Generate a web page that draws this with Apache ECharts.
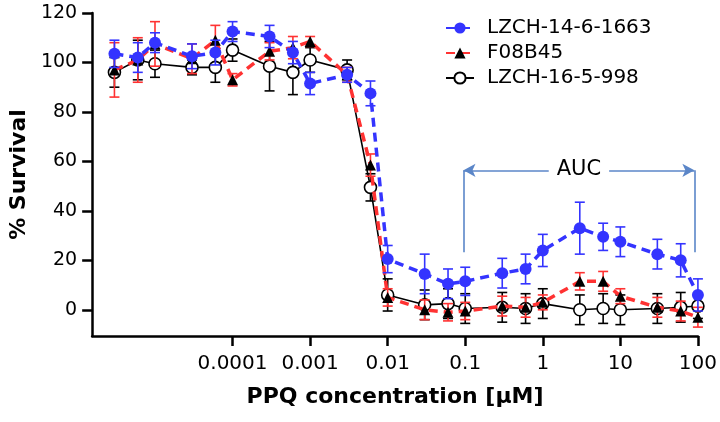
<!DOCTYPE html>
<html>
<head>
<meta charset="utf-8">
<script src="https://cdn.jsdelivr.net/npm/echarts@6/dist/echarts.min.js"></script>
<style>
  html, body { margin: 0; padding: 0; background: #fff; }
  #chart { width: 720px; height: 422px; }
</style>
</head>
<body>
<div id="chart"></div>
<script>
// PPQ concentrations in uM
const conc = [3e-6, 6e-6, 1e-5, 3e-5, 6e-5, 1e-4, 3e-4, 6e-4, 1e-3, 3e-3, 6e-3, 1e-2,
    3e-2, 6e-2, 0.1, 0.3, 0.6, 1, 3, 6, 10, 30, 60, 100];

const names = ['LZCH-14-6-1663', 'F08B45', 'LZCH-16-5-998'];

const blueVals = [103.5, 102, 108, 102.5, 104, 112.5, 110.5, 104, 91.5, 95, 87.5, 20.5,
    14.5, 10.5, 11.5, 14.8, 16.5, 24, 33, 29.5, 27.5, 22.5, 20, 6];
const blueErr = [5.5, 6, 4, 5, 5, 4, 4.5, 4.5, 4.5, 3, 5, 5.5,
    8, 6, 5.7, 6, 6, 6.5, 10.5, 5.5, 6, 6, 6.7, 6.5];

const redVals = [97, 101, 107.5, 101.5, 109, 93, 104.5, 106, 108.5, 95, 58.5, 5,
    0, -1, -0.5, 1.5, 1, 3, 11.5, 11.5, 5.5, 1, -0.5, -3];
const redErr = [11, 9, 9, 6, 6, 2.5, 3.5, 4.5, 2, 3, 4.5, 3.5,
    4, 3.5, 3.5, 4, 4, 3, 3.5, 4, 3, 4, 4, 4];

const blackVals = [96, 101, 99.5, 98, 98, 105, 98.5, 96, 101, 97, 49.5, 6,
    2, 2.5, 0.5, 1, 0.5, 2.5, 0, 0.5, 0, 0.5, 1, 1.5];
const blackErr = [6, 8, 5.5, 3, 6, 4.5, 10, 9, 5, 4, 5.5, 6.5,
    6, 6, 6, 6, 6, 6, 6, 6, 6, 6, 6, 5];

const xTicks = [-4, -3, -2, -1, 0, 1, 2];
const xTickLabels = ['0.0001', '0.001', '0.01', '0.1', '1', '10', '100'];
const yTicks = [0, 20, 40, 60, 80, 100, 120];

// AUC bracket: from / to concentration and heights
const aucFrom = 0.095;
const aucTo = 90;
const aucTop = 56.4;
const aucBottom = 23.3;

const BLUE = '#3434ff';
const RED = '#ff3232';
const AUC_COLOR = '#5b86c8';
const FONT = '"DejaVu Sans", sans-serif';

function lineData(vals) {
    return conc.map((c, i) => [Math.log10(c), vals[i]]);
}

function errData(vals, errs) {
    return conc.map((c, i) => [Math.log10(c), vals[i] - errs[i], vals[i] + errs[i]]);
}

function errorSeries(id, vals, errs, color, z) {
    return {
        type: 'custom',
        name: id,
        z: z,
        data: errData(vals, errs),
        encode: { x: 0, y: [1, 2] },
        renderItem: function (params, api) {
            const x = api.value(0);
            const lo = api.coord([x, api.value(1)]);
            const hi = api.coord([x, api.value(2)]);
            const w = 5;
            const style = { stroke: color, lineWidth: 1.6 };
            return {
                type: 'group',
                children: [
                    { type: 'line', shape: { x1: lo[0], y1: lo[1], x2: hi[0], y2: hi[1] }, style: style },
                    { type: 'line', shape: { x1: lo[0] - w, y1: lo[1], x2: lo[0] + w, y2: lo[1] }, style: style },
                    { type: 'line', shape: { x1: hi[0] - w, y1: hi[1], x2: hi[0] + w, y2: hi[1] }, style: style }
                ]
            };
        }
    };
}

function init() {
    const chart = echarts.init(document.getElementById('chart'), null, { renderer: 'canvas' });
    const lgFrom = Math.log10(aucFrom);
    const lgTo = Math.log10(aucTo);

    const option = {
        animation: false,
        backgroundColor: '#fff',
        grid: { left: 89, right: 20, top: 13, bottom: 86 },
        legend: {
            data: names,
            orient: 'vertical',
            left: 440,
            top: 13,
            itemWidth: 28,
            itemHeight: 14,
            itemGap: 5,
            textStyle: { fontFamily: FONT, fontSize: 20, color: '#000', padding: [0, 0, 0, 8] }
        },
        xAxis: {
            type: 'value',
            min: -5.81,
            max: 2,
            name: 'PPQ concentration [μM]',
            nameLocation: 'middle',
            nameGap: 50,
            nameTextStyle: { fontFamily: FONT, fontSize: 22, fontWeight: 'bold', color: '#000' },
            axisLine: { onZero: false, lineStyle: { color: '#000', width: 2.5 } },
            axisTick: { customValues: xTicks, length: 10, lineStyle: { color: '#000', width: 2.5 } },
            axisLabel: {
                customValues: xTicks,
                margin: 18,
                fontFamily: FONT,
                fontSize: 20,
                color: '#000',
                formatter: function (v) {
                    const i = xTicks.indexOf(Math.round(v));
                    return i >= 0 ? xTickLabels[i] : '';
                }
            },
            splitLine: { show: false }
        },
        yAxis: {
            type: 'value',
            min: -10.6,
            max: 120,
            name: '% Survival',
            nameLocation: 'middle',
            nameGap: 56,
            nameTextStyle: { fontFamily: FONT, fontSize: 22, fontWeight: 'bold', color: '#000' },
            axisLine: { show: true, onZero: false, lineStyle: { color: '#000', width: 2.5 } },
            axisTick: { show: true, customValues: yTicks, length: 10, lineStyle: { color: '#000', width: 2.5 } },
            axisLabel: { customValues: yTicks, margin: 15, fontFamily: FONT, fontSize: 19, color: '#000' },
            splitLine: { show: false }
        },
        series: [
            errorSeries('err-black', blackVals, blackErr, '#000', 1),
            {
                type: 'line',
                name: names[2],
                z: 2,
                data: lineData(blackVals),
                symbol: 'circle',
                symbolSize: 12,
                itemStyle: { color: '#fff', borderColor: '#000', borderWidth: 1.6 },
                lineStyle: { color: '#000', width: 1.6 },
                markLine: {
                    silent: true,
                    symbol: 'none',
                    lineStyle: { color: AUC_COLOR, width: 1.6, type: 'solid' },
                    label: { show: false },
                    data: [
                        [
                            { coord: [lgFrom, aucTop], symbol: 'arrow', symbolSize: [10, 12],
                              label: { show: true, position: 'middle', formatter: 'AUC', color: '#000',
                                       fontFamily: FONT, fontSize: 21, backgroundColor: '#fff',
                                       padding: [2, 8], distance: -12 } },
                            { coord: [lgTo, aucTop], symbol: 'arrow', symbolSize: [10, 12] }
                        ],
                        [{ coord: [lgFrom, aucTop] }, { coord: [lgFrom, aucBottom] }],
                        [{ coord: [lgTo, aucTop] }, { coord: [lgTo, aucBottom] }]
                    ]
                }
            },
            errorSeries('err-red', redVals, redErr, RED, 3),
            {
                type: 'line',
                name: names[1],
                z: 4,
                data: lineData(redVals),
                symbol: 'triangle',
                symbolSize: 11,
                itemStyle: { color: '#000' },
                lineStyle: { color: RED, width: 3.5, type: [9, 6] }
            },
            errorSeries('err-blue', blueVals, blueErr, BLUE, 5),
            {
                type: 'line',
                name: names[0],
                z: 6,
                data: lineData(blueVals),
                symbol: 'circle',
                symbolSize: 12,
                itemStyle: { color: BLUE },
                lineStyle: { color: BLUE, width: 3.5, type: [9, 6] }
            }
        ]
    };
    chart.setOption(option);
}

window.onload = function () {
    init();
};
</script>
</body>
</html>
